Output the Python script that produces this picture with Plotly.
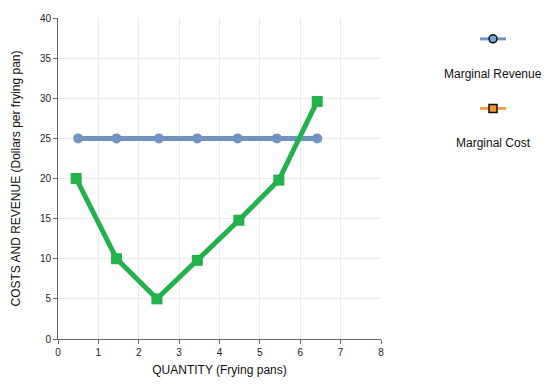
import plotly.graph_objects as go

mr_x = [0.5, 1.45, 2.5, 3.45, 4.45, 5.42, 6.42]
mr_y = [25, 25, 25, 25, 25, 25, 25]
mc_x = [0.45, 1.45, 2.45, 3.45, 4.48, 5.47, 6.42]
mc_y = [20, 10, 5, 9.8, 14.8, 19.8, 29.6]

MR_COLOR = "#7094c2"
MC_COLOR = "#22b14c"
FONT = "Liberation Sans, Arial, sans-serif"

fig = go.Figure()
fig.add_trace(go.Scatter(x=mr_x, y=mr_y, mode="lines+markers", name="Marginal Revenue",
                         line=dict(color=MR_COLOR, width=5),
                         marker=dict(symbol="circle", size=10, color=MR_COLOR)))
fig.add_trace(go.Scatter(x=mc_x, y=mc_y, mode="lines+markers", name="Marginal Cost",
                         line=dict(color=MC_COLOR, width=5),
                         marker=dict(symbol="square", size=11, color=MC_COLOR)))

axis_common = dict(showgrid=True, gridcolor="#ebebeb", gridwidth=1, zeroline=False,
                   showline=True, linecolor="#666", linewidth=1, ticks="outside",
                   ticklen=4, tickcolor="#666", tickfont=dict(size=10, color="#222", family=FONT))
fig.update_xaxes(range=[0, 8], dtick=1, title=dict(text="QUANTITY (Frying pans)", font=dict(size=12, color="#111", family=FONT), standoff=8), **axis_common)
fig.update_yaxes(range=[0, 40], dtick=5, title=dict(text="COSTS AND REVENUE (Dollars per frying pan)", font=dict(size=12, color="#111", family=FONT), standoff=16), **axis_common)

# custom legend (paper coordinates)
W, H = 548, 389
ml, mr, mt, mb = 58, 167, 16, 50
pw, ph = W - ml - mr, H - mt - mb
def px(x):
    return (x - ml) / pw
def py(y):
    return (H - mb - y) / ph

shapes = []
annotations = []
legend_items = [("Marginal Revenue", MR_COLOR, "#7da3d3", "circle", 37, 72),
                ("Marginal Cost", "#f5a04a", "#f0962e", "square", 107, 142)]
for name, lcol, fcol, sym, iy, ty in legend_items:
    cx = 493
    shapes.append(dict(type="line", xref="paper", yref="paper", x0=px(cx - 13), x1=px(cx + 13),
                       y0=py(iy), y1=py(iy), line=dict(color=lcol, width=3)))
    shapes.append(dict(type="circle" if sym == "circle" else "rect", xref="paper", yref="paper",
                       xsizemode="pixel", ysizemode="pixel", xanchor=px(cx), yanchor=py(iy),
                       x0=-4, x1=4, y0=-4, y1=4, fillcolor=fcol, line=dict(color="#111", width=1.5)))
    annotations.append(dict(x=px(cx), y=py(ty), xref="paper", yref="paper", text=name,
                            showarrow=False, xanchor="center", yanchor="middle",
                            font=dict(size=12, color="#111", family=FONT)))

fig.update_layout(width=W, height=H, margin=dict(l=ml, r=mr, t=mt, b=mb),
                  plot_bgcolor="white", paper_bgcolor="white", showlegend=False,
                  shapes=shapes, annotations=annotations, font=dict(family=FONT))
fig.write_html("out.html")
